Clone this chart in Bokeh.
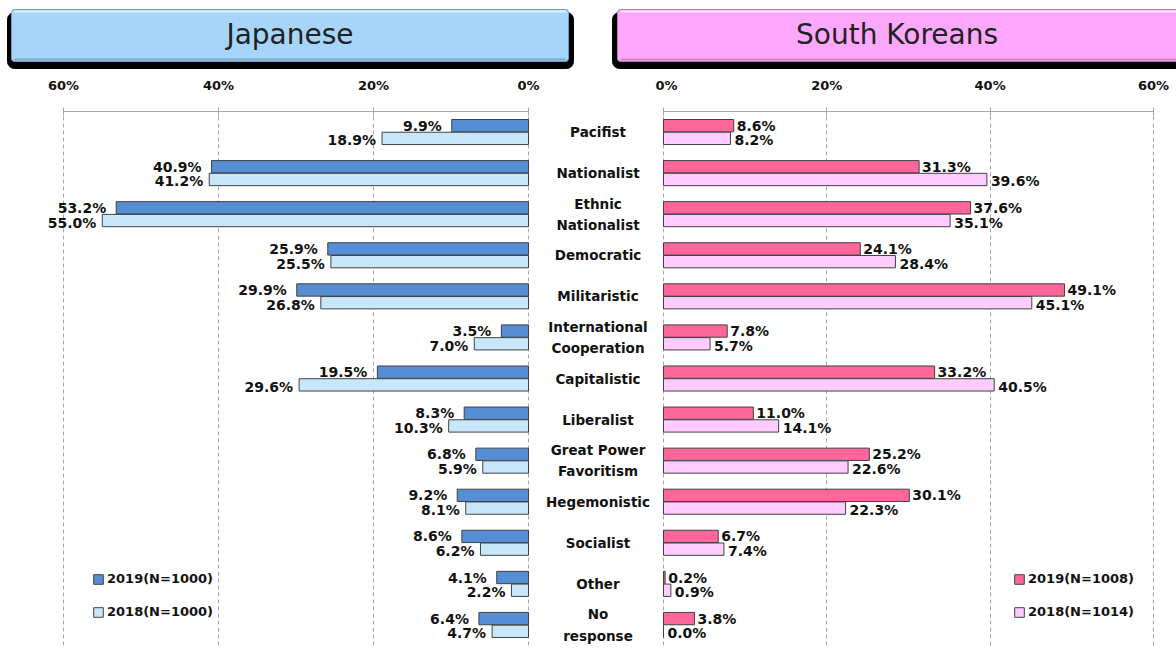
from bokeh.plotting import figure
from bokeh.models import Range1d, FactorRange, FixedTicker, Legend, LegendItem, ColumnDataSource
from bokeh.transform import dodge
from bokeh.layouts import row, column
from bokeh.core.properties import value
from bokeh.embed import file_html
from bokeh.resources import INLINE

# ---------------- data ----------------
categories = ["Pacifist", "Nationalist", "Ethnic Nationalist", "Democratic", "Militaristic",
              "International Cooperation", "Capitalistic", "Liberalist", "Great Power Favoritism",
              "Hegemonistic", "Socialist", "Other", "No response"]
category_labels = ["Pacifist", "Nationalist", "Ethnic\nNationalist", "Democratic", "Militaristic",
                   "International\nCooperation", "Capitalistic", "Liberalist", "Great Power\nFavoritism",
                   "Hegemonistic", "Socialist", "Other", "No\nresponse"]
jp_2019 = [9.9, 40.9, 53.2, 25.9, 29.9, 3.5, 19.5, 8.3, 6.8, 9.2, 8.6, 4.1, 6.4]
jp_2018 = [18.9, 41.2, 55.0, 25.5, 26.8, 7.0, 29.6, 10.3, 5.9, 8.1, 6.2, 2.2, 4.7]
kr_2019 = [8.6, 31.3, 37.6, 24.1, 49.1, 7.8, 33.2, 11.0, 25.2, 30.1, 6.7, 0.2, 3.8]
kr_2018 = [8.2, 39.6, 35.1, 28.4, 45.1, 5.7, 40.5, 14.1, 22.6, 22.3, 7.4, 0.9, 0.0]
panel_titles = ["Japanese", "South Koreans"]
jp_legend = ["2019(N=1000)", "2018(N=1000)"]
kr_legend = ["2019(N=1008)", "2018(N=1014)"]
tick_values = [0, 20, 40, 60]
tick_labels = ["0%", "20%", "40%", "60%"]

# ---------------- styles ----------------
FONT = "DejaVu Sans"
C_JP19, C_JP18 = "#558ED5", "#C9E7FB"
C_KR19, C_KR18 = "#FF6699", "#FFCCFF"
EDGE = "#404040"
GRID = "#A6A6A6"

yr = FactorRange(factors=list(reversed(categories)))


def pct(vals):
    return [f"{v:.1f}%" for v in vals]


def panel(width, xr, v19, v18, c19, c18, align, off19, off18, legend_labels, legend_x):
    p = figure(width=width, height=576, x_range=xr, y_range=yr, x_axis_location="above",
               y_axis_location=None, toolbar_location=None, output_backend="svg",
               min_border=0, min_border_top=34, min_border_bottom=5, outline_line_color=None)
    src = ColumnDataSource(dict(cat=categories, v19=v19, v18=v18, t19=pct(v19), t18=pct(v18)))
    r19 = p.hbar(y=dodge("cat", 0.155, range=yr), left=0, right="v19", height=0.3, source=src,
                 fill_color=c19, line_color=EDGE, line_width=1)
    r18 = p.hbar(y=dodge("cat", -0.155, range=yr), left=0, right="v18", height=0.3, source=src,
                 fill_color=c18, line_color=EDGE, line_width=1)
    common = dict(text_font=value(FONT), text_font_style="bold", text_font_size="14px",
                  text_color="#111111", text_align=align, text_baseline="middle", source=src)
    p.text(x="v19", y=dodge("cat", 0.155, range=yr), text="t19", x_offset=off19, y_offset=0, **common)
    p.text(x="v18", y=dodge("cat", -0.155, range=yr), text="t18", x_offset=off18, y_offset=2, **common)

    ax = p.xaxis[0]
    ax.ticker = FixedTicker(ticks=tick_values)
    ax.major_label_overrides = {t: l for t, l in zip(tick_values, tick_labels)}
    ax.bounds = (0, 60)
    ax.axis_line_color = GRID
    ax.major_tick_line_color = GRID
    ax.minor_tick_line_color = None
    ax.major_tick_in = 4
    ax.major_tick_out = 4
    ax.major_label_standoff = 15
    ax.major_label_text_font = FONT
    ax.major_label_text_font_style = "bold"
    ax.major_label_text_font_size = "13px"
    ax.major_label_text_color = "#111111"

    p.xgrid.ticker = FixedTicker(ticks=tick_values)
    p.xgrid.grid_line_color = GRID
    p.xgrid.grid_line_dash = "4 3"
    p.ygrid.grid_line_color = None

    leg = Legend(items=[LegendItem(label=legend_labels[0], renderers=[r19]),
                        LegendItem(label=legend_labels[1], renderers=[r18])],
                 location=(legend_x, 26), orientation="vertical",
                 border_line_color=None, background_fill_alpha=0, padding=0, margin=0,
                 glyph_width=12, glyph_height=12, label_height=14, label_standoff=3, spacing=18,
                 label_text_font=FONT, label_text_font_style="bold", label_text_font_size="13px",
                 label_text_color="#111111")
    p.add_layout(leg)
    return p


p_left = panel(540, Range1d(68.13, -1.548), jp_2019, jp_2018, C_JP19, C_JP18, "right", -10, -6, jp_legend, 92)
p_right = panel(521, Range1d(-0.98, 62.82), kr_2019, kr_2018, C_KR19, C_KR18, "left", 3, 4, kr_legend, 358)

# middle category labels
p_mid = figure(width=115, height=576, x_range=Range1d(0, 1), y_range=yr, x_axis_location=None,
               y_axis_location=None, toolbar_location=None, output_backend="svg",
               min_border=0, min_border_top=34, min_border_bottom=5, outline_line_color=None)
p_mid.xgrid.grid_line_color = None
p_mid.ygrid.grid_line_color = None
msrc = ColumnDataSource(dict(cat=categories, lab=category_labels, x=[0.5] * len(categories)))
p_mid.text(x="x", y="cat", text="lab", source=msrc, text_font=value(FONT), text_font_style="bold",
           text_font_size="13.5px", text_color="#111111", text_align="center", text_baseline="middle",
           text_line_height=1.33)

# header with the two panel titles
p_head = figure(width=1176, height=74, x_range=Range1d(0, 1176), y_range=Range1d(74, 0),
                x_axis_location=None, y_axis_location=None, toolbar_location=None,
                output_backend="svg", min_border=0, outline_line_color=None)
p_head.xgrid.grid_line_color = None
p_head.ygrid.grid_line_color = None
boxes = [(7, 573, 11, 568, "#A6D5FA", "#6E9CC2", "#E2F2FF", "#7FA8CC"),
         (612, 1185, 617, 1185, "#FDA8FD", "#B878B8", "#FFE0FF", "#C98AC9")]
for (sl, sr, bl, br, fc, lc, hi, lo), title in zip(boxes, panel_titles):
    p_head.quad(left=sl, right=sr, top=12, bottom=68, fill_color="black", line_color="black",
                border_radius=7)
    p_head.quad(left=bl, right=br, top=9, bottom=61, fill_color=fc, line_color=lc, line_width=1,
                border_radius=3)
    p_head.segment(x0=bl + 3, y0=11, x1=br - 3, y1=11, line_color=hi, line_width=2)
    p_head.segment(x0=bl + 3, y0=59, x1=br - 3, y1=59, line_color=lo, line_width=2)
    p_head.text(x=[(bl + min(br, 1176)) / 2], y=[34], text=[title], text_font=value(FONT),
                text_font_size="28px", text_color="#222222", text_align="center",
                text_baseline="middle")

layout = column(p_head, row(p_left, p_mid, p_right, spacing=0), spacing=0)
open("out.html", "w").write(file_html(layout, INLINE))
